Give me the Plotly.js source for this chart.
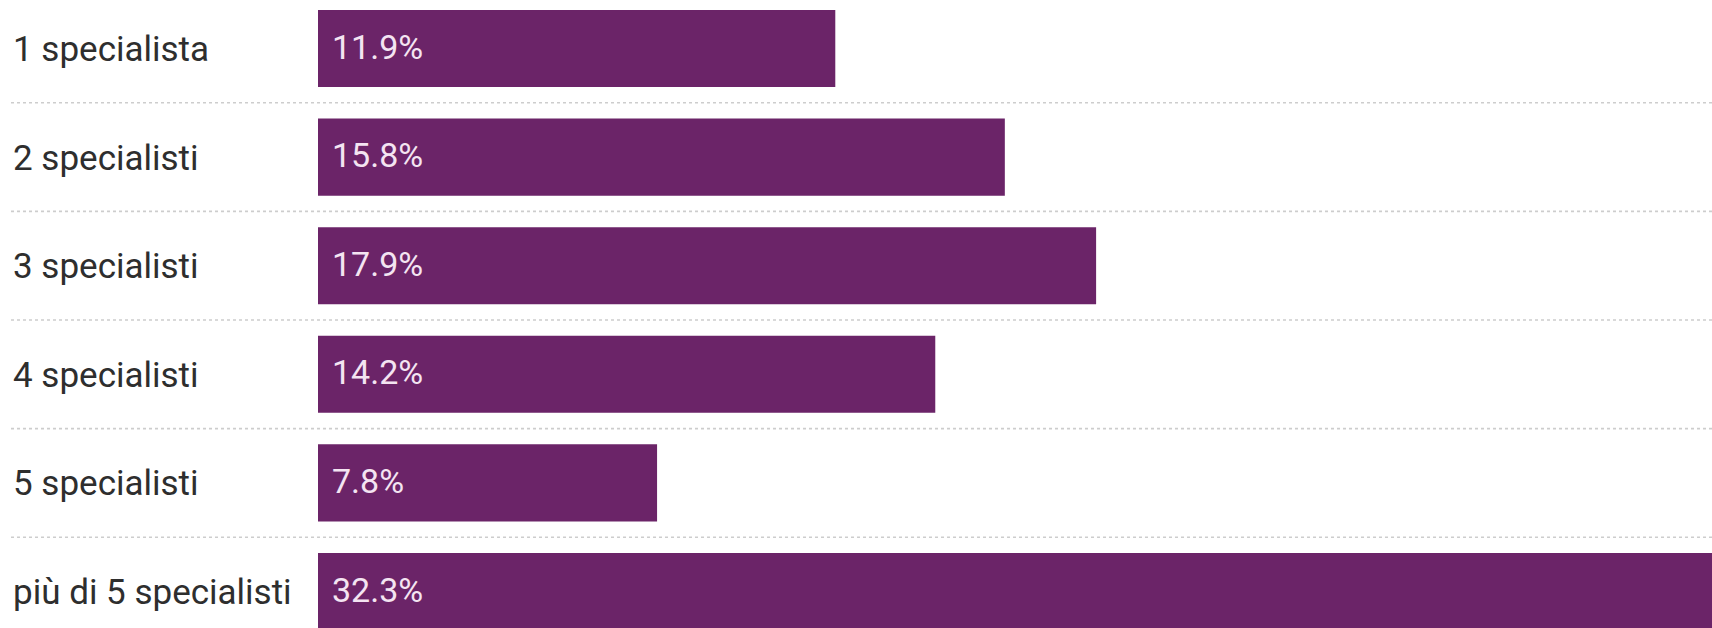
<!DOCTYPE html>
<html>
<head>
<meta charset="utf-8">
<script src="https://cdn.plot.ly/plotly-3.0.1.min.js"></script>
<style>
html,body{margin:0;padding:0;background:#fff;}
#chart{width:1712px;height:628px;}
</style>
</head>
<body>
<div id="chart"></div>
<script>
const categories = ["1 specialista", "2 specialisti", "3 specialisti", "4 specialisti", "5 specialisti", "più di 5 specialisti"];
const values = [11.9, 15.8, 17.9, 14.2, 7.8, 32.3];
const valueLabels = ["11.9%", "15.8%", "17.9%", "14.2%", "7.8%", "32.3%"];

const W = 1712, H = 628;
const marginL = 318;
const plotW = W - marginL;
const pxPerUnit = 43.47;
const barColor = "#6b2468";
const fontFam = "Roboto, 'Noto Sans', sans-serif";

const idx = categories.map((c, i) => i);

const trace = {
  type: "bar",
  orientation: "h",
  y: idx,
  x: values,
  marker: {color: barColor, line: {width: 0}},
  width: 0.71,
  hoverinfo: "skip"
};

const annotations = [];
categories.forEach((c, i) => {
  annotations.push({
    xref: "paper", yref: "y", x: 0, y: i,
    xshift: -(marginL - 11), yshift: -1, xanchor: "left", yanchor: "middle",
    text: c, showarrow: false,
    font: {family: fontFam, size: 35, color: "#2e2e2e"}
  });
  annotations.push({
    xref: "x", yref: "y", x: 0, y: i,
    xshift: 12, yshift: 2, xanchor: "left", yanchor: "middle",
    text: valueLabels[i], showarrow: false,
    font: {family: fontFam, size: 34, color: "#f4e4f2"}
  });
});

const shapes = [];
for (let i = 0; i < categories.length - 1; i++) {
  shapes.push({
    type: "line", xref: "paper", yref: "y",
    x0: -(marginL - 11) / plotW, x1: 1,
    y0: i + 0.5, y1: i + 0.5,
    line: {color: "#cdcdcd", width: 1.6, dash: "dot"}
  });
}

const pxPerCat = 108.6;
const topCat = -48.5 / pxPerCat;
const botCat = topCat + H / pxPerCat;

const layout = {
  width: W, height: H,
  margin: {l: marginL, r: 0, t: 0, b: 0, pad: 0},
  paper_bgcolor: "#ffffff",
  plot_bgcolor: "#ffffff",
  showlegend: false,
  xaxis: {range: [0, plotW / pxPerUnit], visible: false, showgrid: false, zeroline: false, fixedrange: true},
  yaxis: {range: [botCat, topCat], visible: false, showgrid: false, zeroline: false, fixedrange: true},
  annotations: annotations,
  shapes: shapes
};

Plotly.newPlot("chart", [trace], layout, {staticPlot: true, displayModeBar: false});
</script>
</body>
</html>
